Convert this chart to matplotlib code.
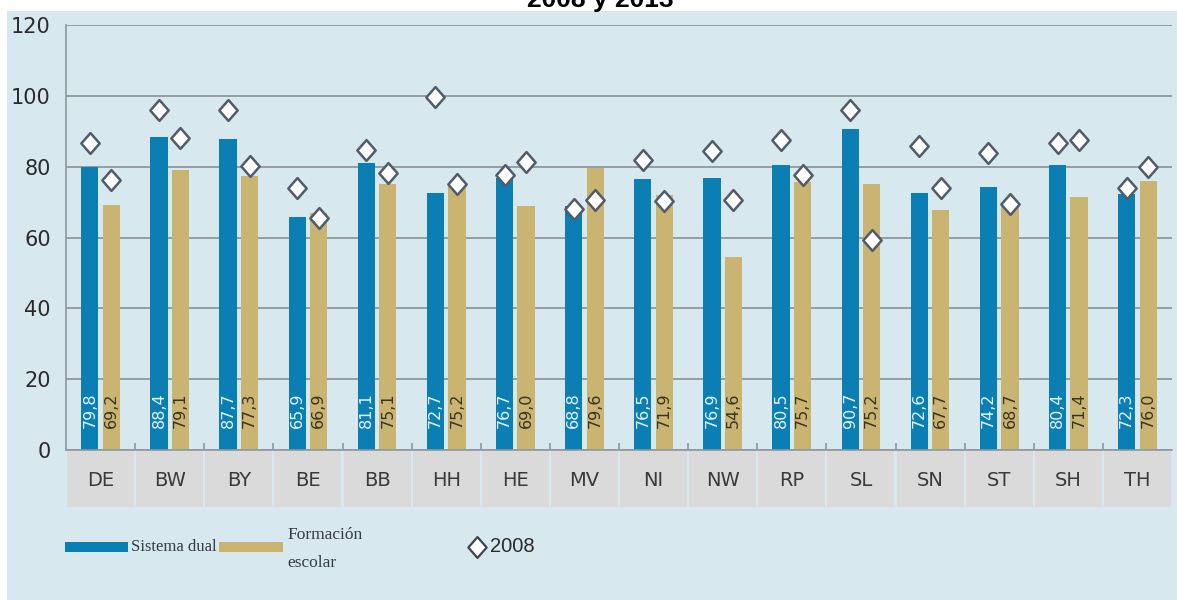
import matplotlib
matplotlib.use('Agg')
import matplotlib.pyplot as plt
import matplotlib.transforms as mtransforms
from matplotlib.patches import Rectangle
from matplotlib.lines import Line2D
from matplotlib.path import Path
import numpy as np

# data
states = ['DE', 'BW', 'BY', 'BE', 'BB', 'HH', 'HE', 'MV',
          'NI', 'NW', 'RP', 'SL', 'SN', 'ST', 'SH', 'TH']
dual_2013 = [79.8, 88.4, 87.7, 65.9, 81.1, 72.7, 76.7, 68.8,
             76.5, 76.9, 80.5, 90.7, 72.6, 74.2, 80.4, 72.3]
escolar_2013 = [69.2, 79.1, 77.3, 66.9, 75.1, 75.2, 69.0, 79.6,
                71.9, 54.6, 75.7, 75.2, 67.7, 68.7, 71.4, 76.0]
dual_2008 = [86.6, 96.0, 96.0, 74.1, 84.7, 99.8, 77.7, 68.1,
             81.9, 84.3, 87.6, 96.0, 85.9, 83.8, 86.8, 74.1]
escolar_2008 = [76.1, 88.0, 80.2, 65.4, 78.2, 75.1, 81.3, 70.6,
                70.4, 70.6, 77.7, 59.3, 74.1, 69.5, 87.4, 79.9]
yticks = [0, 20, 40, 60, 80, 100, 120]

blue = '#0b7fb3'
tan = '#c9b571'
bg = '#d7e8ef'
grid_col = '#8e989d'
box_col = '#dadada'
cond = ['Liberation Sans Narrow', 'DejaVu Sans']

W, H = 1177, 600
fig = plt.figure(figsize=(W / 100, H / 100), dpi=100)
fig.patch.set_facecolor('white')
# light blue panel behind the chart
fig.add_artist(Rectangle((7 / W, 0), 1 - 7 / W, 1 - 11 / H, transform=fig.transFigure,
                         facecolor=bg, edgecolor='none', zorder=-10))

ax = fig.add_axes([66 / W, 0.25, (1172 - 66) / W, 425 / H])
ax.set_facecolor(bg)

x = np.arange(len(states))
w = 0.25
off = 0.155
ax.bar(x - off, dual_2013, w, color=blue, zorder=2)
ax.bar(x + off, escolar_2013, w, color=tan, zorder=2)

diamond = Path([(0, 1), (0.88, 0), (0, -1), (-0.88, 0), (0, 1)],
               [Path.MOVETO, Path.LINETO, Path.LINETO, Path.LINETO, Path.CLOSEPOLY])
mk = dict(ls='none', marker=diamond, ms=15, mfc='white', mec='#525b68', mew=1.8, zorder=4)
ax.plot(x - off, dual_2008, **mk)
ax.plot(x + off, escolar_2008, **mk)

# value labels inside the bars
for i in range(len(states)):
    ax.text(x[i] - off, 11.3, f'{dual_2013[i]:.1f}'.replace('.', ','), rotation=90,
            ha='center', va='center', fontsize=11.5, color='#e4f5ff', family=cond, zorder=3)
    ax.text(x[i] + off, 11.3, f'{escolar_2013[i]:.1f}'.replace('.', ','), rotation=90,
            ha='center', va='center', fontsize=11.5, color='#3a3220', family=cond, zorder=3)

ax.set_xlim(-0.5, len(states) - 0.5)
ax.set_ylim(0, 120)
ax.set_yticks(yticks)
ax.yaxis.grid(True, color=grid_col, lw=1.3)
ax.set_axisbelow(True)
ax.tick_params(axis='y', length=0, pad=11, labelsize=15, labelcolor='#2b2b2b')
for lab in ax.get_yticklabels():
    lab.set_family(cond)

ax.set_xticks(x, states)
ax.tick_params(axis='x', length=0, pad=15, labelsize=14, labelcolor='#3a3a3a')
for lab in ax.get_xticklabels():
    lab.set_family(cond)
ax.set_xticks(x[:-1] + 0.5, minor=True)
ax.tick_params(axis='x', which='minor', direction='in', length=5, color=grid_col, width=1.2)

for s in ['top', 'right']:
    ax.spines[s].set_visible(False)
ax.spines['left'].set_color(grid_col)
ax.spines['bottom'].set_color(grid_col)
ax.spines['left'].set_linewidth(1.2)
ax.spines['bottom'].set_linewidth(1.2)

# grey category boxes under the axis
trans = mtransforms.blended_transform_factory(ax.transData, ax.transAxes)
bh = 57 / 425
for i in range(len(states)):
    ax.add_patch(Rectangle((i - 0.5 + 0.015, -bh), 0.97, bh, transform=trans,
                           facecolor=box_col, edgecolor='none', clip_on=False, zorder=0.5))

# title (cut at the top as in the source)
fig.text(600 / W, 1 - 7 / H, '2008 y 2013', ha='center', va='baseline', fontsize=19,
         fontweight='bold', family='Liberation Sans', color='black')

# legend drawn by hand
fy = lambda py: 1 - py / H
fig.add_artist(Rectangle((65 / W, fy(552)), 63 / W, 10 / H, transform=fig.transFigure,
                         facecolor=blue, edgecolor='none'))
fig.text(131 / W, fy(547), 'Sistema dual', ha='left', va='center', fontsize=12,
         family='Liberation Serif', color='#333a44')
fig.add_artist(Rectangle((219 / W, fy(552)), 64 / W, 10 / H, transform=fig.transFigure,
                         facecolor=tan, edgecolor='none'))
fig.text(287 / W, fy(549), 'Formación\nescolar', ha='left', va='center', fontsize=12.5,
         family='Liberation Serif', color='#333a44', linespacing=2.0)
fig.add_artist(Line2D([477 / W], [fy(547)], transform=fig.transFigure, ls='none',
                      marker=diamond, ms=15, mfc='white', mec='#3d4450', mew=1.6))
fig.text(490 / W, fy(547), '2008', ha='left', va='center', fontsize=14.5,
         family='Liberation Sans', color='#2b2b2b')

fig.savefig('out.png', dpi=100, facecolor=fig.get_facecolor())
